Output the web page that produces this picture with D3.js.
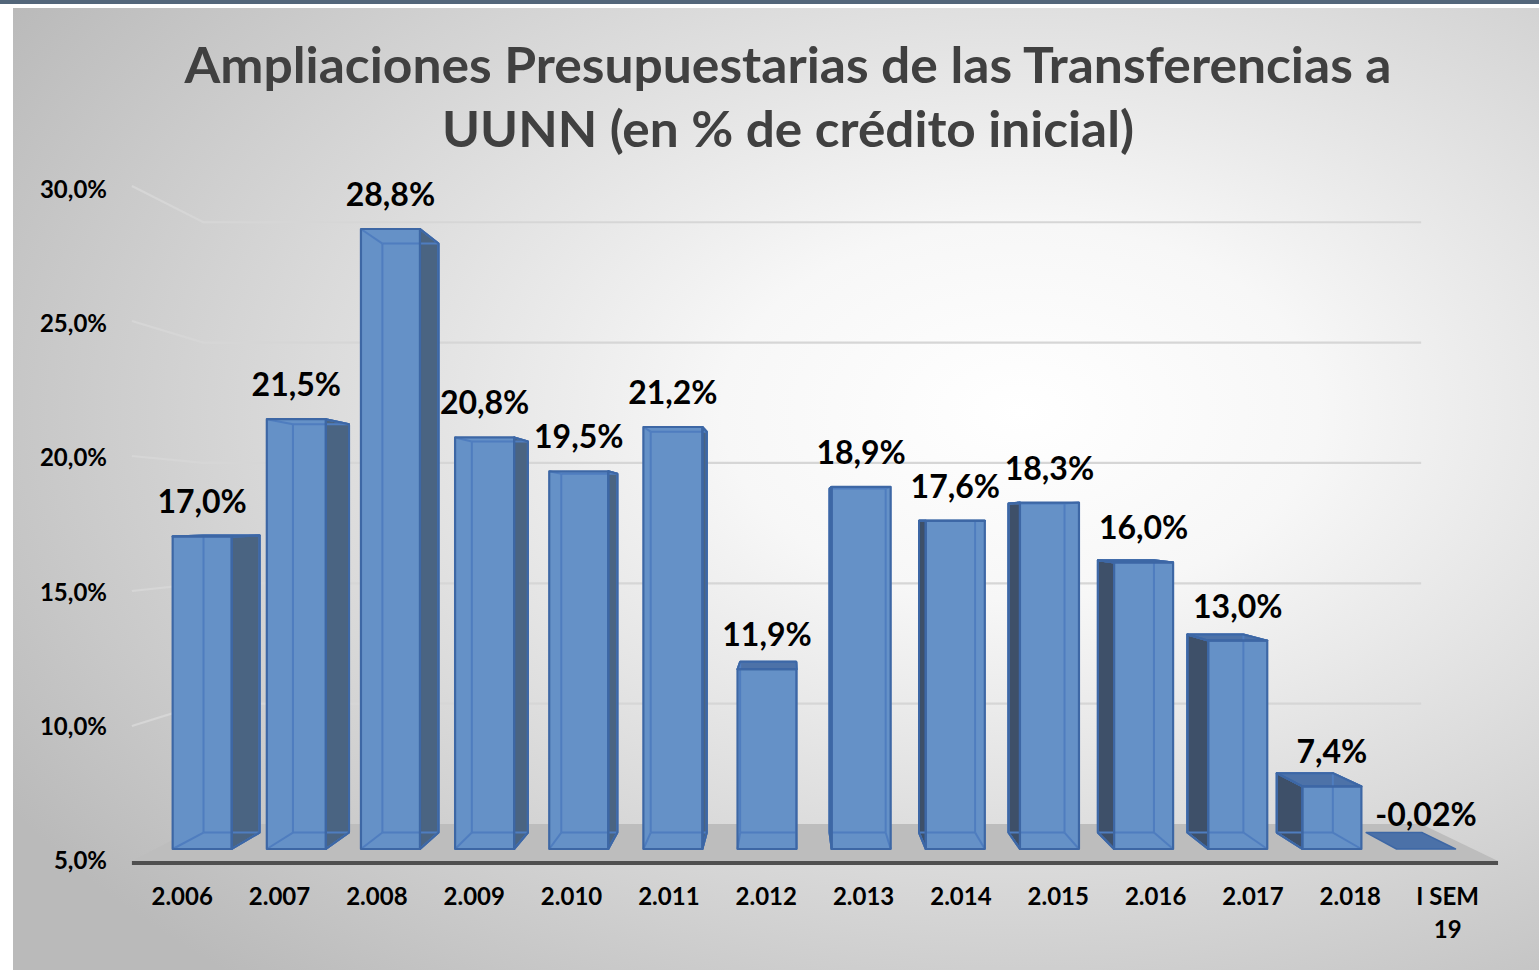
<!DOCTYPE html>
<html>
<head>
<meta charset="utf-8">
<script src="https://cdn.jsdelivr.net/npm/d3@7"></script>
<style>
html,body{margin:0;padding:0;background:#fff;}
svg{display:block;}
text{font-family:Lato,"Open Sans",sans-serif;font-weight:700;}
</style>
</head>
<body>
<svg id="chart" width="1539" height="970"></svg>
<script>
// ---- data ----
const categories = ["2.006","2.007","2.008","2.009","2.010","2.011","2.012","2.013","2.014","2.015","2.016","2.017","2.018","I SEM 19"];
const values = [17.0, 21.5, 28.8, 20.8, 19.5, 21.2, 11.9, 18.9, 17.6, 18.3, 16.0, 13.0, 7.4, -0.02];
const valueLabels = ["17,0%","21,5%","28,8%","20,8%","19,5%","21,2%","11,9%","18,9%","17,6%","18,3%","16,0%","13,0%","7,4%","-0,02%"];
const yTicks = [5, 10, 15, 20, 25, 30];
const yTickLabels = ["5,0%","10,0%","15,0%","20,0%","25,0%","30,0%"];
const titleLines = ["Ampliaciones Presupuestarias de las Transferencias a", "UUNN (en % de crédito inicial)"];

// ---- layout ----
const W = 1539, H = 970;
const svg = d3.select("#chart");
const defs = svg.append("defs");

const bg = defs.append("radialGradient").attr("id","bg")
  .attr("cx","0.66").attr("cy","0.42").attr("r","0.78");
bg.append("stop").attr("offset","0").attr("stop-color","#ffffff");
bg.append("stop").attr("offset","0.25").attr("stop-color","#f7f7f7");
bg.append("stop").attr("offset","1").attr("stop-color","#bababa");

svg.append("rect").attr("x",0).attr("y",0).attr("width",W).attr("height",H).attr("fill","#ffffff");
svg.append("rect").attr("x",0).attr("y",0).attr("width",W).attr("height",4).attr("fill","#53667a");
svg.append("rect").attr("x",13).attr("y",8).attr("width",W-13).attr("height",H-8).attr("fill","url(#bg)");

// scales (front plane of the bars)
const x = d3.scaleBand().domain(categories).range([155.1, 1473.1]).paddingInner(0.373).paddingOuter(0.1865);
const y = d3.scaleLinear().domain([5, 30]).range([849, 197.75]);
const VP = [790, 520];
const tFloorFront = -0.0365, tWall = 0.076, tBarBack = 0.05, tLabel = -0.034, tAxis = -0.03;
function P(X, Y, t){ return [X + t*(VP[0]-X), Y + t*(VP[1]-Y)]; }
const line = pts => "M" + pts.map(p => p.join(",")).join("L");
const poly = pts => line(pts) + "Z";

const [X0r, X1r] = x.range();

// gridlines (back wall + left wall)
const grid = svg.append("g");
yTicks.filter(v => v > 5).forEach(v => {
  const Y = y(v);
  grid.append("path").attr("d", line([P(X0r,Y,tFloorFront), P(X0r,Y,tWall), P(X1r,Y,tWall)]))
    .attr("fill","none").attr("stroke","#d6d6d6").attr("stroke-width",2.2);
});

// floor
const Yf = y(5);
svg.append("path").attr("d", poly([P(X0r,Yf,tFloorFront), P(X1r,Yf,tFloorFront), P(X1r,Yf,tWall), P(X0r,Yf,tWall)]))
  .attr("fill","#bdbdbd");
const ff1 = P(X0r,Yf,tFloorFront), ff2 = P(X1r,Yf,tFloorFront);
svg.append("path").attr("d", poly([ff1, ff2, [ff2[0], ff2[1]+4], [ff1[0], ff1[1]+4]]))
  .attr("fill","#4f4f4f");

// bars
const bw = x.bandwidth();
const barsG = svg.append("g");
categories.forEach((c, i) => {
  const v = values[i];
  const X0 = x(c), X1 = X0 + bw;
  const Yb = y(5), Yt = y(Math.max(v, 5));
  const FLB = P(X0,Yb,0), FRB = P(X1,Yb,0), FLT = P(X0,Yt,0), FRT = P(X1,Yt,0);
  const BLB = P(X0,Yb,tBarBack), BRB = P(X1,Yb,tBarBack), BLT = P(X0,Yt,tBarBack), BRT = P(X1,Yt,tBarBack);
  const g = barsG.append("g");
  const outline = "#3d67a5";
  if (v <= 5) {
    g.append("path").attr("d", poly([FLB, FRB, BRB, BLB])).attr("fill","#4b71a8")
      .attr("stroke","#3d67a5").attr("stroke-width",1.5).attr("stroke-linejoin","round");
    return;
  }
  // top face
  if (Yt > VP[1]) {
    g.append("path").attr("d", poly([FLT, FRT, BRT, BLT])).attr("fill","#4d72a8")
      .attr("stroke",outline).attr("stroke-width",2).attr("stroke-linejoin","round");
  }
  // side faces
  if (X1 < VP[0]) {
    g.append("path").attr("d", poly([FRB, FRT, BRT, BRB])).attr("fill","#4a6482")
      .attr("stroke",outline).attr("stroke-width",2).attr("stroke-linejoin","round");
  } else if (X0 > VP[0]) {
    g.append("path").attr("d", poly([FLB, FLT, BLT, BLB])).attr("fill","#3e5069")
      .attr("stroke",outline).attr("stroke-width",2).attr("stroke-linejoin","round");
  }
  // front face
  g.append("path").attr("d", poly([FLB, FRB, FRT, FLT])).attr("fill","#6591c7");
  // hidden edges seen through
  const hid = "#4f7dbf";
  [[BLB,BRB],[BRB,BRT],[BRT,BLT],[BLT,BLB],[FLB,BLB],[FRB,BRB],[FLT,BLT],[FRT,BRT]].forEach(e => {
    g.append("path").attr("d", line(e)).attr("stroke",hid).attr("stroke-width",2).attr("fill","none");
  });
  // re-stroke visible outlines
  if (Yt > VP[1]) g.append("path").attr("d", poly([FLT, FRT, BRT, BLT])).attr("fill","none").attr("stroke",outline).attr("stroke-width",2).attr("stroke-linejoin","round");
  if (X1 < VP[0]) g.append("path").attr("d", poly([FRB, FRT, BRT, BRB])).attr("fill","none").attr("stroke",outline).attr("stroke-width",2).attr("stroke-linejoin","round");
  else if (X0 > VP[0]) g.append("path").attr("d", poly([FLB, FLT, BLT, BLB])).attr("fill","none").attr("stroke",outline).attr("stroke-width",2).attr("stroke-linejoin","round");
  g.append("path").attr("d", poly([FLB, FRB, FRT, FLT])).attr("fill","none")
    .attr("stroke",outline).attr("stroke-width",2.2).attr("stroke-linejoin","round");
});

// value labels
categories.forEach((c, i) => {
  const Xc = x(c) + bw/2;
  const Yt = y(Math.max(values[i], 5));
  svg.append("text").attr("x", Xc).attr("y", Yt - 23).attr("text-anchor","middle")
    .attr("font-size", 32).attr("fill","#000").text(valueLabels[i]);
});

// y axis labels
yTicks.forEach((v, i) => {
  const p = P(X0r, y(v), tAxis);
  svg.append("text").attr("x", 107).attr("y", p[1] + 10).attr("text-anchor","end")
    .attr("font-size", 24).attr("fill","#000").text(yTickLabels[i]);
});

// category labels
categories.forEach((c) => {
  const p = P(x(c) + bw/2, y(5), tLabel);
  const words = c.split(" ");
  const t = svg.append("text").attr("text-anchor","middle").attr("font-size", 24).attr("fill","#000");
  if (words.length > 2) {
    t.append("tspan").attr("x", p[0]).attr("y", 905).text(words.slice(0,2).join(" "));
    t.append("tspan").attr("x", p[0]).attr("y", 938).text(words.slice(2).join(" "));
  } else {
    t.append("tspan").attr("x", p[0]).attr("y", 905).text(c);
  }
});

// title
const titleW = [1207, 692];
titleLines.forEach((s, i) => {
  svg.append("text").attr("x", 788).attr("y", i === 0 ? 83 : 147).attr("text-anchor","middle")
    .attr("font-size", 50).attr("fill","#404040")
    .attr("textLength", titleW[i]).attr("lengthAdjust","spacingAndGlyphs").text(s);
});
</script>
</body>
</html>
